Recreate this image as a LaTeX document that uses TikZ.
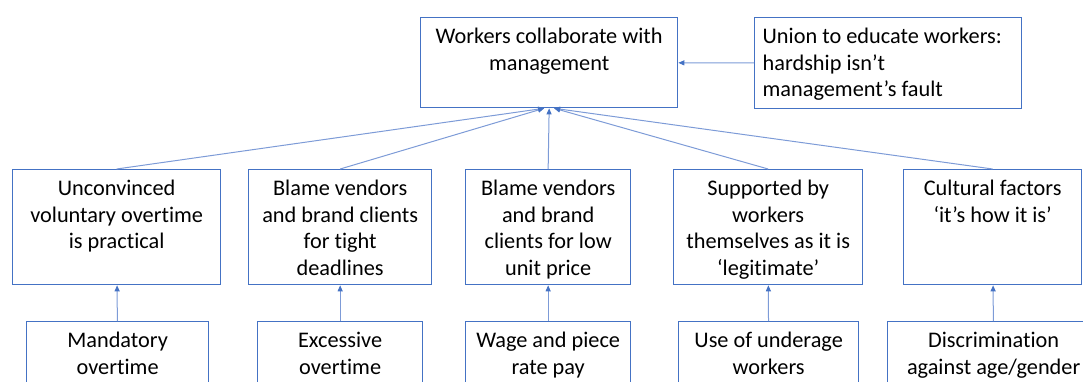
\documentclass[tikz,border=0pt]{standalone}
\usepackage{fontspec}
\setmainfont[Ligatures = NoCommon]{Carlito}
\usetikzlibrary{arrows.meta}

\definecolor{boxblue}{RGB}{68,114,196}
\definecolor{lineblue}{RGB}{125,155,215}

% text of a box: [alignment]{box width}{box height}{first baseline}{lines}
\newcommand{\boxtext}[5][\centering]{%
	\parbox[c][#3][t]{\dimexpr#2-16pt\relax}{#1\rule{0pt}{#4}#5}}

\tikzset{
	box/.style = {draw = boxblue, line width = 1.3pt, fill = white,
		inner xsep = 8pt, inner ysep = 0pt, anchor = north west},
	link/.style = {draw = lineblue, line width = 1pt}
}

\begin{document}
\begin{tikzpicture}[x = 1pt, y = -1pt,
	> = {Triangle[length = 6pt, width = 5pt, color = boxblue]},
	every node/.style = {font = \fontsize{22.3}{26.6}\selectfont}]
	
	% Frame of the picture
	
	\useasboundingbox (0, 0) rectangle (1083, 381);
	\clip (0, 0) rectangle (1083, 381);
	
	% Top row
	
	\node [box] (top) at (420, 17) {\boxtext{257pt}{90pt}{26pt}{Workers collaborate with\\management}};
	\node [box] (union) at (754, 17) {\boxtext[\raggedright]{267pt}{91pt}{26pt}{Union to educate workers:\\hardship isn’t\\management’s fault}};
	
	% Middle row
	
	\node [box] (m1) at (12, 169) {\boxtext{208pt}{115pt}{26pt}{Unconvinced\\voluntary overtime\\is practical}};
	\node [box] (m2) at (248, 169) {\boxtext{183pt}{115pt}{26pt}{Blame vendors\\and brand clients\\for tight\\deadlines}};
	\node [box] (m3) at (465, 169) {\boxtext{165pt}{115pt}{26pt}{Blame vendors\\and brand\\clients for low\\unit price}};
	\node [box] (m4) at (673, 169) {\boxtext{189pt}{115pt}{26pt}{Supported by\\workers\\themselves as it is\\‘legitimate’}};
	\node [box] (m5) at (903, 169) {\boxtext{178pt}{115pt}{26pt}{Cultural factors\\‘it’s how it is’}};
	
	% Bottom row
	
	\node [box] (b1) at (26, 321) {\boxtext{182pt}{80pt}{26pt}{Mandatory\\overtime}};
	\node [box] (b2) at (257, 321) {\boxtext{165pt}{80pt}{26pt}{Excessive\\overtime}};
	\node [box] (b3) at (465, 321) {\boxtext{165pt}{80pt}{26pt}{Wage and piece\\rate pay}};
	\node [box] (b4) at (678, 321) {\boxtext{180pt}{80pt}{26pt}{Use of underage\\workers}};
	\node [box] (b5) at (887, 321) {\boxtext{212pt}{80pt}{26pt}{Discrimination\\against age/gender}};
	
	% Connectors
	
	\begin{scope}[->, link]
	
		\draw (union) -- (top);
		\draw (m1.north) -- ([xshift = -5pt] top.south);
		\draw (m2.north) -- ([xshift = -5pt] top.south);
		\draw (m3.north) -- (top.south);
		\draw (m4.north) -- ([xshift = 5pt] top.south);
		\draw (m5.north) -- ([xshift = 5pt] top.south);
		\foreach \i in {1, ..., 5}
			\draw (b\i) -- (m\i);
		
	\end{scope}

\end{tikzpicture}
\end{document}
